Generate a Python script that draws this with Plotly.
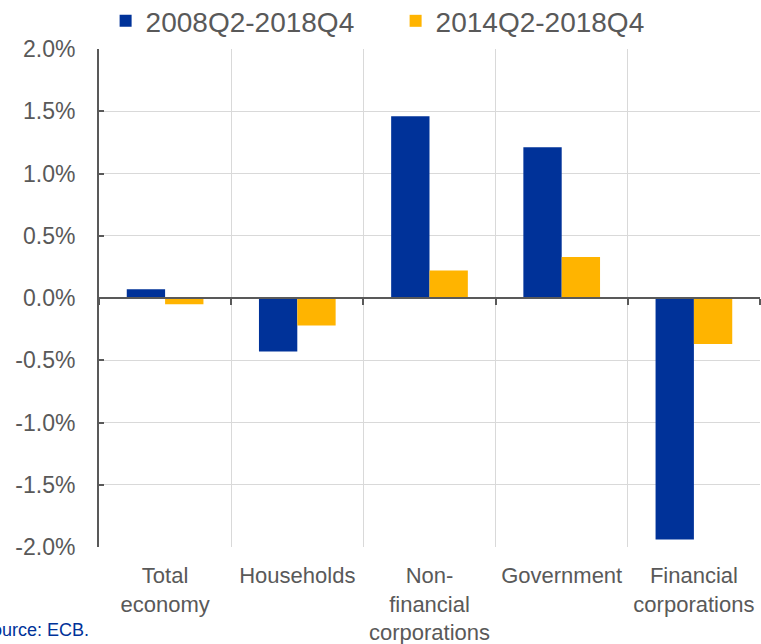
import plotly.graph_objects as go

categories = ["Total<br>economy", "Households", "Non-<br>financial<br>corporations",
              "Government", "Financial<br>corporations"]
series_names = ["2008Q2-2018Q4", "2014Q2-2018Q4"]
values_0818 = [0.07, -0.43, 1.46, 1.21, -1.94]
values_1418 = [-0.05, -0.22, 0.22, 0.33, -0.37]
y_ticks = [-2.0, -1.5, -1.0, -0.5, 0.0, 0.5, 1.0, 1.5, 2.0]
y_labels = ["-2.0%", "-1.5%", "-1.0%", "-0.5%", "0.0%", "0.5%", "1.0%", "1.5%", "2.0%"]

grey = "#595959"
font = "Liberation Sans, Arial, sans-serif"

fig = go.Figure()
fig.add_trace(go.Bar(x=categories, y=values_0818, name=series_names[0],
                     marker_color="#003299", marker_line_width=0))
fig.add_trace(go.Bar(x=categories, y=values_1418, name=series_names[1],
                     marker_color="#FFB400", marker_line_width=0))
# invisible helper trace so the zero-line axis with boundary ticks gets drawn
fig.add_trace(go.Scatter(x=categories, y=[0] * len(categories), xaxis="x2",
                         mode="markers", marker_opacity=0, showlegend=False,
                         hoverinfo="skip"))

fig.update_layout(
    width=761, height=644,
    margin=dict(l=99, r=1, t=49, b=97, autoexpand=False),
    plot_bgcolor="white", paper_bgcolor="white",
    font=dict(family=font, color=grey, size=23),
    barmode="group", bargap=0.42, bargroupgap=0,
    legend=dict(orientation="h", x=0.01, y=1.056, yanchor="middle", xanchor="left",
                font=dict(size=28, color=grey), itemwidth=30,
                entrywidth=245, entrywidthmode="pixels",
                tracegroupgap=0, traceorder="normal"),
    xaxis=dict(type="category", tickson="boundaries", ticks="", showgrid=True,
               gridcolor="#d9d9d9", gridwidth=1, showline=False, zeroline=False,
               automargin=False, ticklabelstandoff=13, tickangle=0,
               tickfont=dict(size=22, color=grey), range=[-0.5, 4.5]),
    xaxis2=dict(type="category", overlaying="x", anchor="free", position=0.5,
                side="bottom", showline=True, linecolor=grey, linewidth=2,
                ticks="outside", tickson="boundaries", ticklen=6, tickwidth=2,
                tickcolor=grey, showticklabels=False, showgrid=False,
                automargin=False, range=[-0.5, 4.5]),
    yaxis=dict(range=[-2, 2], tickvals=y_ticks, ticktext=y_labels,
               showgrid=True, gridcolor="#d9d9d9", gridwidth=1,
               showline=True, linecolor=grey, linewidth=2,
               ticks="inside", ticklen=5, tickwidth=2, tickcolor=grey,
               zeroline=False, ticklabelstandoff=17, automargin=False,
               tickfont=dict(size=23, color=grey)),
)

fig.add_annotation(text="Source: ECB.", xref="paper", yref="paper",
                   x=-0.1833, y=-0.166, xanchor="left", yanchor="middle",
                   showarrow=False, font=dict(size=18, color="#003299"))

fig.write_html("out.html", config={"displayModeBar": False},
               post_script="document.body.style.margin='0';")
